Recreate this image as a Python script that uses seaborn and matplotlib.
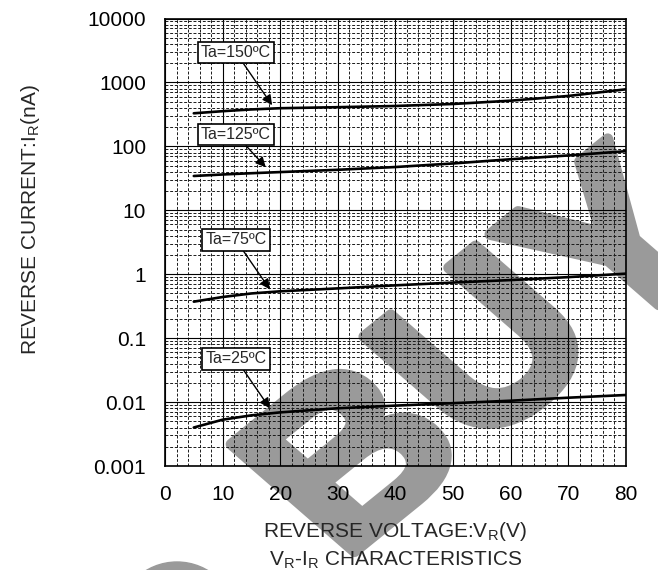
import numpy as np
import pandas as pd
import matplotlib
matplotlib.use("Agg")
import matplotlib.pyplot as plt
from matplotlib.ticker import LogLocator, MultipleLocator, NullFormatter, FixedLocator
from matplotlib.patches import Circle, PathPatch
from matplotlib.textpath import TextPath
from matplotlib.font_manager import FontProperties
from matplotlib.transforms import Affine2D
import seaborn as sns

# ---- data ----
voltage = [5, 10, 15, 20, 30, 40, 50, 60, 70, 80]
i_150 = [329, 355, 378, 395, 410, 428, 460, 518, 614, 780]
i_125 = [34.4, 36.3, 38.0, 39.6, 43.0, 47.5, 54.0, 62.8, 72.0, 84.0]
i_75 = [0.372, 0.44, 0.50, 0.54, 0.60, 0.67, 0.74, 0.81, 0.90, 1.02]
i_25 = [0.0040, 0.0053, 0.0062, 0.0069, 0.0080, 0.0088, 0.0096, 0.0105, 0.0117, 0.0129]
temps = ["Ta=150ºC", "Ta=125ºC", "Ta=75ºC", "Ta=25ºC"]
series = [i_150, i_125, i_75, i_25]
label_box = [(12.3, 2940), (12.3, 153), (12.3, 3.43), (12.3, 0.0475)]
label_tip = [(18.6, 440), (17.5, 47), (18.2, 0.58), (18.2, 0.0080)]
y_ticks = [0.001, 0.01, 0.1, 1, 10, 100, 1000, 10000]
y_ticklabels = ["0.001", "0.01", "0.1", "1", "10", "100", "1000", "10000"]
x_ticks = [0, 10, 20, 30, 40, 50, 60, 70, 80]
watermark = "BUY"

df = pd.DataFrame({
    "VR": voltage * len(temps),
    "IR": sum(series, []),
    "Ta": sum([[t] * len(voltage) for t in temps], []),
})

sns.set_style("white")
plt.rcParams["font.family"] = ["Liberation Sans", "DejaVu Sans"]
plt.rcParams["mathtext.fontset"] = "custom"
plt.rcParams["mathtext.rm"] = "Liberation Sans"

W, H = 658, 570
fig = plt.figure(figsize=(W / 100, H / 100), dpi=100)
fig.patch.set_facecolor("white")
ax = fig.add_axes([165 / W, 1 - 466 / H, 460.7 / W, 447.5 / H])
ax.set_facecolor("none")

# watermark (rotated, slightly squashed text path)
wm = "#9a9a9a"
fp = FontProperties(family="Liberation Sans", weight="bold")
tp = TextPath((0, 0), watermark, size=258, prop=fp)
bb = tp.get_extents()
wm_tr = (Affine2D().translate(-(bb.x0 + bb.x1) / 2, -(bb.y0 + bb.y1) / 2)
         .rotate_deg(44).scale(1.0, 0.84).translate(482, H - 346))
wm_patch = PathPatch(tp, facecolor=wm, edgecolor=wm, linewidth=8,
                     joinstyle="round", zorder=-2)
wm_patch.set_transform(wm_tr)
fig.add_artist(wm_patch)
circ = Circle((1.77, (H - 622) / 100), 0.60, transform=fig.dpi_scale_trans,
              color=wm, zorder=-2)
fig.add_artist(circ)

sns.lineplot(data=df, x="VR", y="IR", hue="Ta", palette=["black"] * 4,
             legend=False, ax=ax, linewidth=1.9, zorder=5)

ax.set_yscale("log")
ax.set_xlim(0, 80)
ax.set_ylim(0.001, 10000)

ax.yaxis.set_major_locator(FixedLocator(y_ticks))
ax.set_yticklabels(y_ticklabels)
ax.yaxis.set_minor_locator(LogLocator(base=10, subs=np.arange(2, 10)))
ax.yaxis.set_minor_formatter(NullFormatter())
ax.set_xticks(x_ticks)
ax.xaxis.set_minor_locator(MultipleLocator(2))

ax.grid(which="major", color="black", linewidth=0.8, linestyle="-")
ax.grid(which="minor", color="#1a1a1a", linewidth=0.7, linestyle=(0, (3, 1.8)))
ax.set_axisbelow(True)

ax.tick_params(which="major", length=0, labelsize=15, colors="black")
ax.tick_params(axis="y", which="major", pad=13.5)
ax.tick_params(axis="x", which="major", pad=13.5)
ax.tick_params(which="minor", direction="in", length=3, width=0.6, color="black")

for s in ax.spines.values():
    s.set_visible(True)
    s.set_color("black")
    s.set_linewidth(1.2)

ax.set_xlabel(r"REVERSE VOLTAGE:V$_\mathregular{R}$(V)", fontsize=15)
ax.xaxis.label.set_va("baseline")
ax.xaxis.set_label_coords(0.5, (466 - 537) / 447.5)
ax.text(0.5, (466 - 565) / 447.5, r"V$_\mathregular{R}$-I$_\mathregular{R}$ CHARACTERISTICS",
        transform=ax.transAxes, ha="center", va="baseline", fontsize=15)

ax.set_ylabel(r"REVERSE CURRENT:I$_\mathregular{R}$(nA)", fontsize=15)
ax.yaxis.label.set_va("baseline")
ax.yaxis.set_label_coords((36 - 165) / 460.7, 1 - (220 - 18.5) / 447.5)

for t, (bx, by), (tx, ty) in zip(temps, label_box, label_tip):
    ax.annotate(t, xy=(tx, ty), xytext=(bx, by), ha="center", va="center",
                fontsize=11.5, zorder=6,
                bbox=dict(boxstyle="square,pad=0.2", fc="white", ec="black", lw=1.2),
                arrowprops=dict(arrowstyle="-|>", color="black", lw=1.0,
                                mutation_scale=15, shrinkA=0, shrinkB=0))

fig.savefig("out.png", dpi=100)
